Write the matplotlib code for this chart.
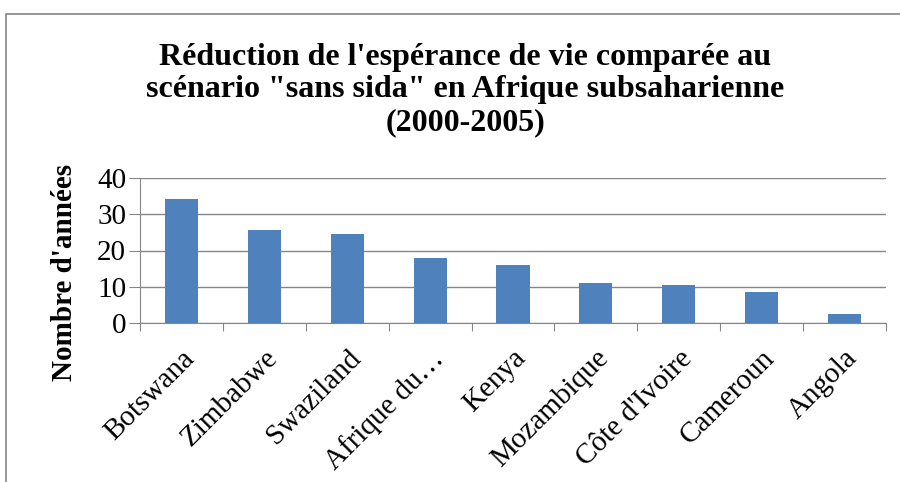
import matplotlib.pyplot as plt
from matplotlib.patches import Rectangle

plt.rcParams['font.family'] = ['Liberation Serif', 'DejaVu Serif']

pays = ["Botswana", "Zimbabwe", "Swaziland", "Afrique du\u2026", "Kenya",
        "Mozambique", "Côte d'Ivoire", "Cameroun", "Angola"]
annees = [34.1, 25.6, 24.5, 18.0, 16.1, 11.1, 10.5, 8.6, 2.6]
yticks = [0, 10, 20, 30, 40]

fig = plt.figure(figsize=(9, 4.82), dpi=100)
ax = fig.add_axes([140/900, 1 - 323/482, 746/900, 145/482])

x = range(len(pays))
ax.bar(x, annees, width=0.4, color="#4F81BD", zorder=3)

ax.set_xlim(-0.5, len(pays) - 0.5)
ax.set_ylim(0, 40)
ax.set_yticks(yticks)
# ticks between categories, labels centred under the bars
ax.set_xticks([i - 0.5 for i in range(len(pays) + 1)])
ax.set_xticklabels([])
ax.set_xticks(list(x), minor=True)
ax.set_xticklabels(pays, minor=True, rotation=45, ha="right",
                   rotation_mode="anchor", fontsize=21)
ax.tick_params(axis="x", which="minor", length=0, pad=16)
ax.tick_params(axis="x", which="major", length=6, color="#868686")
ax.tick_params(axis="y", length=8, color="#868686", labelsize=21, pad=2)

ax.grid(axis="y", color="#868686", linewidth=1, zorder=0)
for s in ["top", "right"]:
    ax.spines[s].set_visible(False)
ax.spines["left"].set_color("#868686")
ax.spines["bottom"].set_color("#868686")

fig.text(465/900, 1 - 90/482,
         "Réduction de l'espérance de vie comparée au\n"
         "scénario \"sans sida\" en Afrique subsaharienne\n(2000-2005)",
         ha="center", va="center", fontsize=23, fontweight="bold",
         linespacing=1.15)
fig.text(65/900, 1 - 272/482, "Nombre d'années", rotation=90,
         ha="center", va="center", fontsize=21, fontweight="bold")

fig.patches.append(Rectangle((6/900, -0.1), 1.2, 1 - 14/482 + 0.1,
                             transform=fig.transFigure, fill=False,
                             edgecolor="#868686", linewidth=1.2))

fig.savefig("out.png", dpi=100)
